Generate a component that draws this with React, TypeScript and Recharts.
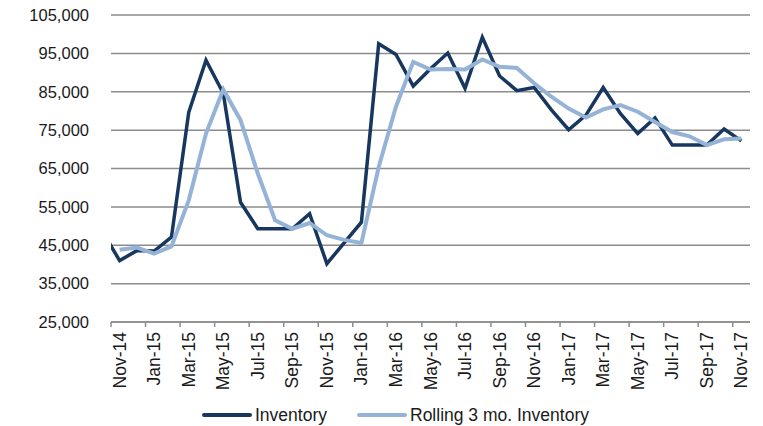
import { LineChart, Line, XAxis, YAxis, CartesianGrid } from "recharts";

// months from Oct-14 (only used for the clipped lead-in segment) to Nov-17
const months = [
  "Oct-14", "Nov-14", "Dec-14", "Jan-15", "Feb-15", "Mar-15", "Apr-15", "May-15", "Jun-15",
  "Jul-15", "Aug-15", "Sep-15", "Oct-15", "Nov-15", "Dec-15", "Jan-16", "Feb-16", "Mar-16",
  "Apr-16", "May-16", "Jun-16", "Jul-16", "Aug-16", "Sep-16", "Oct-16", "Nov-16", "Dec-16",
  "Jan-17", "Feb-17", "Mar-17", "Apr-17", "May-17", "Jun-17", "Jul-17", "Aug-17", "Sep-17",
  "Oct-17", "Nov-17",
];

const inventory = [
  48600, 41000, 43600, 43500, 47100, 79600, 93200, 84600, 56200, 49300, 49300, 49300, 53200,
  40200, 45600, 51000, 97500, 94700, 86500, 91000, 95100, 85900, 99200, 89100, 85300, 86100,
  80300, 75100, 78900, 86100, 79300, 74100, 78200, 71100, 71100, 71100, 75300, 72200,
];

// rolling 3 mo. starts at Nov-14
const rolling = [
  43800, 44400, 42800, 44700, 56700, 74100, 85600, 77600, 63700, 51500, 49300, 50800, 47600,
  46400, 45600, 65400, 81100, 92800, 90800, 90900, 90800, 93400, 91500, 91200, 87200, 83700,
  80600, 78300, 80400, 81500, 79800, 77100, 74500, 73400, 71100, 72600, 72800,
];

const yTicks = [25000, 35000, 45000, 55000, 65000, 75000, 85000, 95000, 105000];
const xTicks = [0, 2, 4, 6, 8, 10, 12, 14, 16, 18, 20, 22, 24, 26, 28, 30, 32, 34, 36];

const seriesNames = ["Inventory", "Rolling 3 mo. Inventory"];
const DARK = "#17375E";
const LIGHT = "#95B3D7";
const FONT = "'Liberation Sans', Arial, sans-serif";

const data = months.map((m, i) => ({
  idx: i - 1,
  month: m,
  inventory: inventory[i],
  rolling: i === 0 ? null : rolling[i - 1],
}));

const W = 763;
const H = 426;
const margin = { top: 15, right: 13, left: 0, bottom: 0 };
const Y_WIDTH = 111;
const X_HEIGHT = 104;
const plotWidth = W - margin.left - margin.right - Y_WIDTH;
const halfStep = plotWidth / 37 / 2;

const fmt = (v: number) => v.toString().replace(/\B(?=(\d{3})+(?!\d))/g, ",");

const MonthTick = (props: any) => {
  const { x, y, payload } = props;
  const label = months[payload.value + 1];
  return (
    <g>
      <line x1={x - halfStep} x2={x - halfStep} y1={y} y2={y + 5} stroke="#8c8c8c" strokeWidth={1.5} />
      <text
        x={x}
        y={y + 10}
        transform={`rotate(-90, ${x}, ${y + 10})`}
        textAnchor="end"
        dominantBaseline="central"
        fontSize={17.5}
        fill="#1a1a1a"
        fontFamily={FONT}
      >
        {label}
      </text>
    </g>
  );
};

const legendPos = [
  { line: 202, text: 255 },
  { line: 357, text: 410 },
];

export default function App() {
  return (
    <div style={{ position: "absolute", left: 0, top: 0, width: W, height: H, fontFamily: FONT }}>
      <LineChart width={W} height={H} data={data} margin={margin}>
        <CartesianGrid vertical={false} stroke="#8c8c8c" strokeWidth={1.5} />
        <XAxis
          dataKey="idx"
          type="number"
          domain={[-0.5, 36.5]}
          allowDataOverflow
          ticks={xTicks}
          interval={0}
          tick={<MonthTick />}
          tickLine={false}
          tickSize={0}
          tickMargin={0}
          height={X_HEIGHT}
          axisLine={{ stroke: "#8c8c8c", strokeWidth: 1.5 }}
        />
        <YAxis
          domain={[25000, 105000]}
          ticks={yTicks}
          interval={0}
          width={Y_WIDTH}
          axisLine={false}
          tickLine={false}
          tickSize={0}
          tickMargin={22}
          tickFormatter={fmt}
          tick={{ fontSize: 16.5, fill: "#1a1a1a", fontFamily: FONT }}
        />
        <Line
          dataKey="inventory"
          name={seriesNames[0]}
          stroke={DARK}
          strokeWidth={3.5}
          dot={false}
          isAnimationActive={false}
        />
        <Line
          dataKey="rolling"
          name={seriesNames[1]}
          stroke={LIGHT}
          strokeWidth={4}
          dot={false}
          isAnimationActive={false}
        />
      </LineChart>
      {seriesNames.map((n, i) => (
        <div
          key={n}
          style={{ position: "absolute", top: 404, left: legendPos[i].line, height: 22, width: 420 }}
        >
          <svg width={52} height={22} style={{ position: "absolute", left: 0, top: 0 }}>
            <line x1={2} x2={48} y1={11} y2={11} stroke={i === 0 ? DARK : LIGHT} strokeWidth={4} strokeLinecap="round" />
          </svg>
          <span
            style={{
              position: "absolute",
              left: legendPos[i].text - legendPos[i].line,
              top: 0,
              lineHeight: "22px",
              fontSize: 17.5,
              color: "#1a1a1a",
              whiteSpace: "nowrap",
            }}
          >
            {n}
          </span>
        </div>
      ))}
    </div>
  );
}
